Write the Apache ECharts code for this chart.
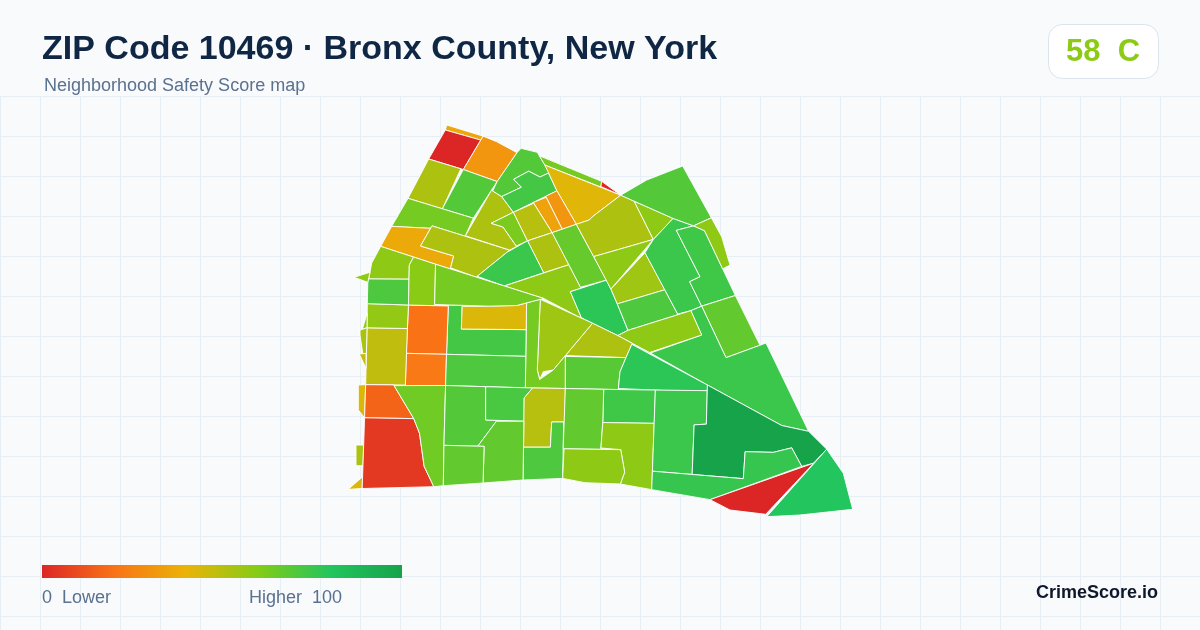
<!DOCTYPE html>
<html>
<head>
<meta charset="utf-8">
<style>html,body{margin:0;padding:0;background:#f8fafc}#c{width:1200px;height:630px}</style>
<script src="https://cdn.jsdelivr.net/npm/echarts@6/dist/echarts.min.js"></script>
</head>
<body>
<div id="c"></div>
<script>
const titleText = "ZIP Code 10469 · Bronx County, New York";
const subtitleText = "Neighborhood Safety Score map";
const gradeText = "58  C";
const brandText = "CrimeScore.io";
const legendLowText = "0  Lower";
const legendHighText = "Higher  100";
const scaleStops = [0, 20, 40, 60, 80, 100];
const scaleColors = ["#dc2626", "#f97316", "#eab308", "#84cc16", "#22c55e", "#16a34a"];

// Neighborhood scores, one per outline below
const regionScores = [
  36, 0, 31, 52, 70, 63, 37, 52, 52, 62,
  70, 73, 63, 1, 42, 31, 35, 50, 52, 75,
  58, 66, 78, 52, 58, 58, 55, 71, 75, 74,
  70, 58, 67, 75, 58, 52, 55, 63, 73, 43,
  20, 22, 71, 48, 57, 71, 58, 59, 63, 58,
  58, 53, 47, 43, 53, 43, 16, 5, 64, 70,
  72, 50, 71, 67, 67, 69, 78, 74, 67, 58,
  58, 75, 100, 76, 0, 80
];

// Traced outlines of the neighborhoods (map geometry)
const regionOutlines = [
  [[446.7,125],[483,135],[481.7,140],[445.3,130]],
  [[445.3,130],[480.7,140.7],[463.3,169.3],[428.7,159]],
  [[483.3,137.3],[496.7,141.7],[516.7,152.3],[496.7,181],[463.3,169.3]],
  [[428.7,159],[460.7,169.3],[442,207.7],[408,198]],
  [[463.3,170],[496.7,181.7],[473.3,217.7],[443.3,208.3]],
  [[408,198.7],[473.3,218.7],[465,235.7],[432,225.7],[430,228],[391.7,226]],
  [[391.7,226.7],[430,228],[420,246],[453.3,256],[450,267.7],[380.7,246]],
  [[432,226],[509.3,250],[476,275.7],[451.3,268],[454,256],[421,246]],
  [[492.7,191.3],[501.7,197],[513,212],[490.7,223.3],[502.7,227.3],[516,246],[510,250],[465.7,235.7]],
  [[513.3,212.7],[526.7,240.7],[516.7,246],[503.3,226.7],[491.7,223.3]],
  [[521,148.3],[537.3,152.3],[548.3,172.7],[540,176.7],[528.7,170.7],[513.3,179.3],[521,186.7],[501.7,196],[492.7,190.7],[498,182],[517.3,153]],
  [[528.7,171.7],[540,177.3],[548.7,173.3],[557.3,190.7],[513.3,211.7],[501.7,196.7],[521.7,187.7],[514,179.3]],
  [[540,155.5],[601.7,181],[601,186],[546,164]],
  [[601.7,181.7],[621.7,193.3],[620,195],[601,187.2]],
  [[546,165],[620,196],[593.3,216],[588.3,220],[576.7,223.3],[556.7,190]],
  [[556.7,191.7],[575,224],[562.3,228.3],[546.7,197.3]],
  [[534,203.3],[545.7,197.3],[561.7,229],[552.3,231.7]],
  [[514,212.7],[533.3,203.3],[551.7,232.3],[528.3,239.3]],
  [[528.3,241.3],[552.3,233.3],[569.3,264],[544,272.7]],
  [[526.7,242],[543.3,272.7],[504,285],[477.3,275.7],[506.7,251.7]],
  [[505,285.7],[569.3,265],[580.7,287.7],[570,291.7],[582.7,317.8],[544,298.5]],
  [[552.3,233.3],[576,225],[606.7,279.3],[580.7,286.7]],
  [[570.7,291.7],[606.7,280.7],[611.7,290],[617.3,304],[627.3,330],[617.3,335],[581.7,317.3]],
  [[577.3,225],[590,220],[593.3,216],[620,196.7],[633.3,202.3],[651.7,237.3],[594,255.7]],
  [[595,256.7],[651.7,238.3],[655,240.7],[610,288.3]],
  [[634,202.3],[672.7,218.3],[653.3,239.3]],
  [[645,252.7],[665.3,289],[617.3,303.3],[611,289]],
  [[617.3,304.3],[666,289.7],[677.3,314],[628.3,330]],
  [[673.3,219.3],[693.3,226],[676,230],[699.3,276.7],[689.3,281.7],[700.7,305.7],[690.7,310],[678.3,314],[645,252.7],[655,241.7]],
  [[676.7,230.7],[693.3,226.7],[704,230.7],[735,295],[701.7,305.7],[690,281.7],[700.7,276.7]],
  [[621.7,195],[646.7,180],[682.7,166],[711,217.3],[693.3,225],[673.3,217.7]],
  [[711.7,218.3],[721.7,236.7],[730,265],[724,268.3],[705,230.7],[694.3,225.7]],
  [[735.7,296],[760,345],[726,357.3],[702.3,306.7]],
  [[691.7,311],[702,306.5],[726,358],[760,345.5],[766,343],[808,431],[781.7,425],[706.7,383.3],[631.7,344],[650,351.7],[701.7,335]],
  [[619,336.7],[628.3,331],[690,311],[701.7,335],[650,351.7]],
  [[593,323.3],[617,335],[631.7,344],[626,357.5],[566.7,356]],
  [[541,300],[592,323.2],[553.3,369.3],[543.3,371.7],[539.3,379],[537.3,370]],
  [[527.3,305],[540,300.5],[537.3,370],[540,380],[553.3,370.7],[565.7,356.7],[565,387.7],[533.3,387.3],[525.7,386.7]],
  [[448.3,306],[461.7,306],[461,329.3],[526,330],[525.7,356],[446.7,354]],
  [[462.7,306.7],[488.3,307.3],[516.7,306.7],[526.7,304],[526,329.3],[461.7,328.7]],
  [[408.3,306],[448.3,306],[446.7,353.3],[407.3,352.7]],
  [[406.7,354],[446,355],[445.3,385],[405.7,385]],
  [[446.7,355],[525.7,356.7],[525,386.7],[446,385]],
  [[367.3,328.3],[406.7,329],[405,385],[366,384]],
  [[367.3,304],[408.3,306],[407.3,328],[367.3,327.3]],
  [[368.3,279.3],[408.3,279.3],[408.3,304],[367.3,303.3]],
  [[380.7,246.7],[413.3,256.7],[409.3,265],[408.3,278.7],[369.3,278.3],[371.7,263]],
  [[414,257.3],[435,264],[434.3,305],[409,304],[409.3,265]],
  [[436,264.7],[543.3,298.3],[516.7,304.3],[488,305],[435,304]],
  [[354,277.3],[368.3,272],[367.7,282.3]],
  [[366.7,313.3],[361.7,327.3],[366.7,327.3]],
  [[360,330],[366.7,328.3],[366,353.3],[362.7,353.3],[360,335]],
  [[359.3,354],[366,353.3],[365,368.3]],
  [[358.3,385],[365,385],[364,416.7],[358.3,410]],
  [[356,445],[362.7,445],[362,465.7],[356,465.7]],
  [[348.3,489.3],[361.7,476.7],[361.7,488.3]],
  [[366,385],[393.3,385.7],[413.3,418.3],[365,417.7]],
  [[364.7,419],[414,419.3],[419,433.3],[424,466.7],[433.3,486.7],[362.7,488.7]],
  [[394,386],[445,386],[443.3,445],[443.3,485.7],[434.3,486.7],[424.3,466],[420,433.3],[414,418.3]],
  [[446,386],[485.3,387.3],[485.3,420.7],[496.7,421.7],[477.3,445.7],[444.3,445]],
  [[486,387.3],[531.7,388.3],[524,397.7],[524,420.7],[486,419.3]],
  [[532.7,388.3],[565,389],[564,421.7],[551.7,421.7],[550,446.7],[524,446.7],[524.3,398.3]],
  [[551.7,422.3],[563.3,422.3],[562.3,478.3],[523.3,480],[524,447.7],[550.7,447.7]],
  [[497.3,421.7],[524,421.7],[522.7,480],[483.3,482.7],[484.3,446],[478.3,445.7]],
  [[444.3,446],[484,446.7],[482.7,483.3],[443.3,485.7]],
  [[566.7,356.5],[626,357.7],[620,372],[618.3,388.3],[565.7,388]],
  [[631.7,345],[707.3,385],[706.7,390],[663.3,390],[618.3,388.7],[620,371.7],[626,357.7]],
  [[604.7,389.3],[655,390],[654,422.7],[603.3,422.3]],
  [[565.7,389.3],[602.7,389.3],[601.7,422],[600,448.3],[564,448.3]],
  [[603.3,423.3],[654,424],[651.7,489.3],[620.7,484],[625,471.7],[620.7,449.3],[601.7,447.7]],
  [[564,449.3],[620.7,450],[624.3,472.7],[620,484],[585,482.7],[563,478.5]],
  [[655.7,390.7],[706.7,391.3],[706,424],[694,424.7],[691.7,474],[652.7,470.7]],
  [[708.3,386.7],[781.7,426],[809.3,431.7],[826.7,448.3],[813.3,461.7],[801.7,466],[791.7,447.7],[773.3,452],[745,451.7],[743.3,478.3],[692.7,474],[694.3,425],[706.7,424.3]],
  [[652.7,471.7],[743.3,479],[745.3,451.7],[773.3,452.7],[791.7,448],[801.7,466.7],[710,499.3],[651.7,490]],
  [[710,500],[813.3,462.7],[822.7,454],[765.7,514.3],[730,510]],
  [[826.7,450],[843.3,473.3],[852.7,509.3],[800,515],[766.7,516.7]]
];

// Tracing leaves neighbours a pixel or two apart: weld them so shared borders coincide.
function weldOutlines(rings, vertexTol, edgeTol) {
  const pts = rings.map(r => r.map(p => p.slice()));
  const all = [];
  pts.forEach((r, ri) => r.forEach((p, pi) => all.push({ ri, pi, p })));
  const parent = all.map((_, i) => i);
  const find = i => parent[i] === i ? i : (parent[i] = find(parent[i]));
  for (let i = 0; i < all.length; i++) for (let j = i + 1; j < all.length; j++) {
    if (all[i].ri === all[j].ri) continue;
    const dx = all[i].p[0] - all[j].p[0], dy = all[i].p[1] - all[j].p[1];
    if (dx * dx + dy * dy <= vertexTol * vertexTol) parent[find(i)] = find(j);
  }
  const groups = {};
  all.forEach((a, i) => (groups[find(i)] = groups[find(i)] || []).push(a));
  Object.values(groups).forEach(g => {
    const mx = g.reduce((s, a) => s + a.p[0], 0) / g.length, my = g.reduce((s, a) => s + a.p[1], 0) / g.length;
    g.forEach(a => { a.p[0] = mx; a.p[1] = my; });
  });
  pts.forEach((r, ri) => r.forEach(p => {
    let best = null, bestD = edgeTol;
    pts.forEach((o, oi) => {
      if (oi === ri) return;
      o.forEach((a, k) => {
        const b = o[(k + 1) % o.length];
        const ex = b[0] - a[0], ey = b[1] - a[1], len2 = ex * ex + ey * ey;
        if (!len2) return;
        const t = ((p[0] - a[0]) * ex + (p[1] - a[1]) * ey) / len2;
        if (t <= 0.02 || t >= 0.98) return;
        const qx = a[0] + t * ex, qy = a[1] + t * ey, d = Math.hypot(p[0] - qx, p[1] - qy);
        if (d < bestD) { bestD = d; best = [qx, qy]; }
      });
    });
    if (best) { p[0] = best[0]; p[1] = best[1]; }
  }));
  return pts;
}
const weldedOutlines = weldOutlines(regionOutlines, 2.6, 2.2);

const geoJson = {
  type: "FeatureCollection",
  features: weldedOutlines.map((ring, i) => ({
    type: "Feature",
    properties: { name: "Area " + (i + 1) },
    geometry: { type: "Polygon", coordinates: [ring.concat([ring[0]])] }
  }))
};
echarts.registerMap("zip10469", geoJson);

const allPts = weldedOutlines.flat();
const xs = allPts.map(p => p[0]), ys = allPts.map(p => p[1]);
const minX = Math.min(...xs), maxX = Math.max(...xs), minY = Math.min(...ys), maxY = Math.max(...ys);

const chart = echarts.init(document.getElementById("c"), null, { renderer: "canvas" });
chart.setOption({
  animation: false,
  backgroundColor: "#f8fafc",
  title: [
    { text: titleText, left: 37, top: 28, textStyle: { fontFamily: "Liberation Sans", fontSize: 34, fontWeight: "bold", color: "#0f2744" } },
    { text: subtitleText, left: 39, top: 72, textStyle: { fontFamily: "Liberation Sans", fontSize: 18, fontWeight: "normal", color: "#5a7190" } }
  ],
  grid: { left: 0, right: 0, top: 96, bottom: 0, show: false },
  xAxis: { type: "value", min: 0, max: 1200, interval: 40, axisLabel: { show: false }, axisLine: { show: false }, axisTick: { show: false }, splitLine: { show: true, lineStyle: { color: "#e8eff4", width: 1 } } },
  yAxis: { type: "value", inverse: true, min: 0, max: 534, interval: 40, axisLabel: { show: false }, axisLine: { show: false }, axisTick: { show: false }, splitLine: { show: true, lineStyle: { color: "#e8eff4", width: 1 } } },
  visualMap: { show: false, type: "continuous", min: 0, max: 100, seriesIndex: 0,
    inRange: { color: scaleColors } },
  series: [{
    type: "map",
    map: "zip10469",
    silent: true,
    projection: { project: p => p, unproject: p => p },
    left: minX, top: minY, width: maxX - minX, height: maxY - minY,
    label: { show: false },
    itemStyle: { borderColor: "#ffffff", borderWidth: 0.9 },
    emphasis: { disabled: true },
    select: { disabled: true },
    data: regionScores.map((v, i) => ({ name: "Area " + (i + 1), value: v }))
  }],
  graphic: [
    { type: "rect", left: 1048, top: 24, z: 10, shape: { width: 110, height: 54, r: 14 }, style: { fill: "#ffffff", stroke: "#dde3ec", lineWidth: 1 } },
    { type: "text", left: 1066, top: 37, z: 11, style: { text: gradeText, fontFamily: "Liberation Sans", fontSize: 31, fontWeight: "bold", fill: "#8ccb15" } },
    { type: "rect", left: 42, top: 565, z: 10, shape: { width: 360, height: 13 }, style: { fill: new echarts.graphic.LinearGradient(0, 0, 1, 0, scaleStops.map((s, i) => ({ offset: s / 100, color: scaleColors[i] }))) } },
    { type: "text", left: 42, top: 589, z: 11, style: { text: legendLowText, fontFamily: "Liberation Sans", fontSize: 18, fill: "#5a7190" } },
    { type: "text", left: 249, top: 589, z: 11, style: { text: legendHighText, fontFamily: "Liberation Sans", fontSize: 18, fill: "#5a7190" } },
    { type: "text", right: 42, top: 584, z: 11, style: { text: brandText, fontFamily: "Liberation Sans", fontSize: 18, fontWeight: "bold", fill: "#0f172a" } }
  ]
});
</script>
</body>
</html>
